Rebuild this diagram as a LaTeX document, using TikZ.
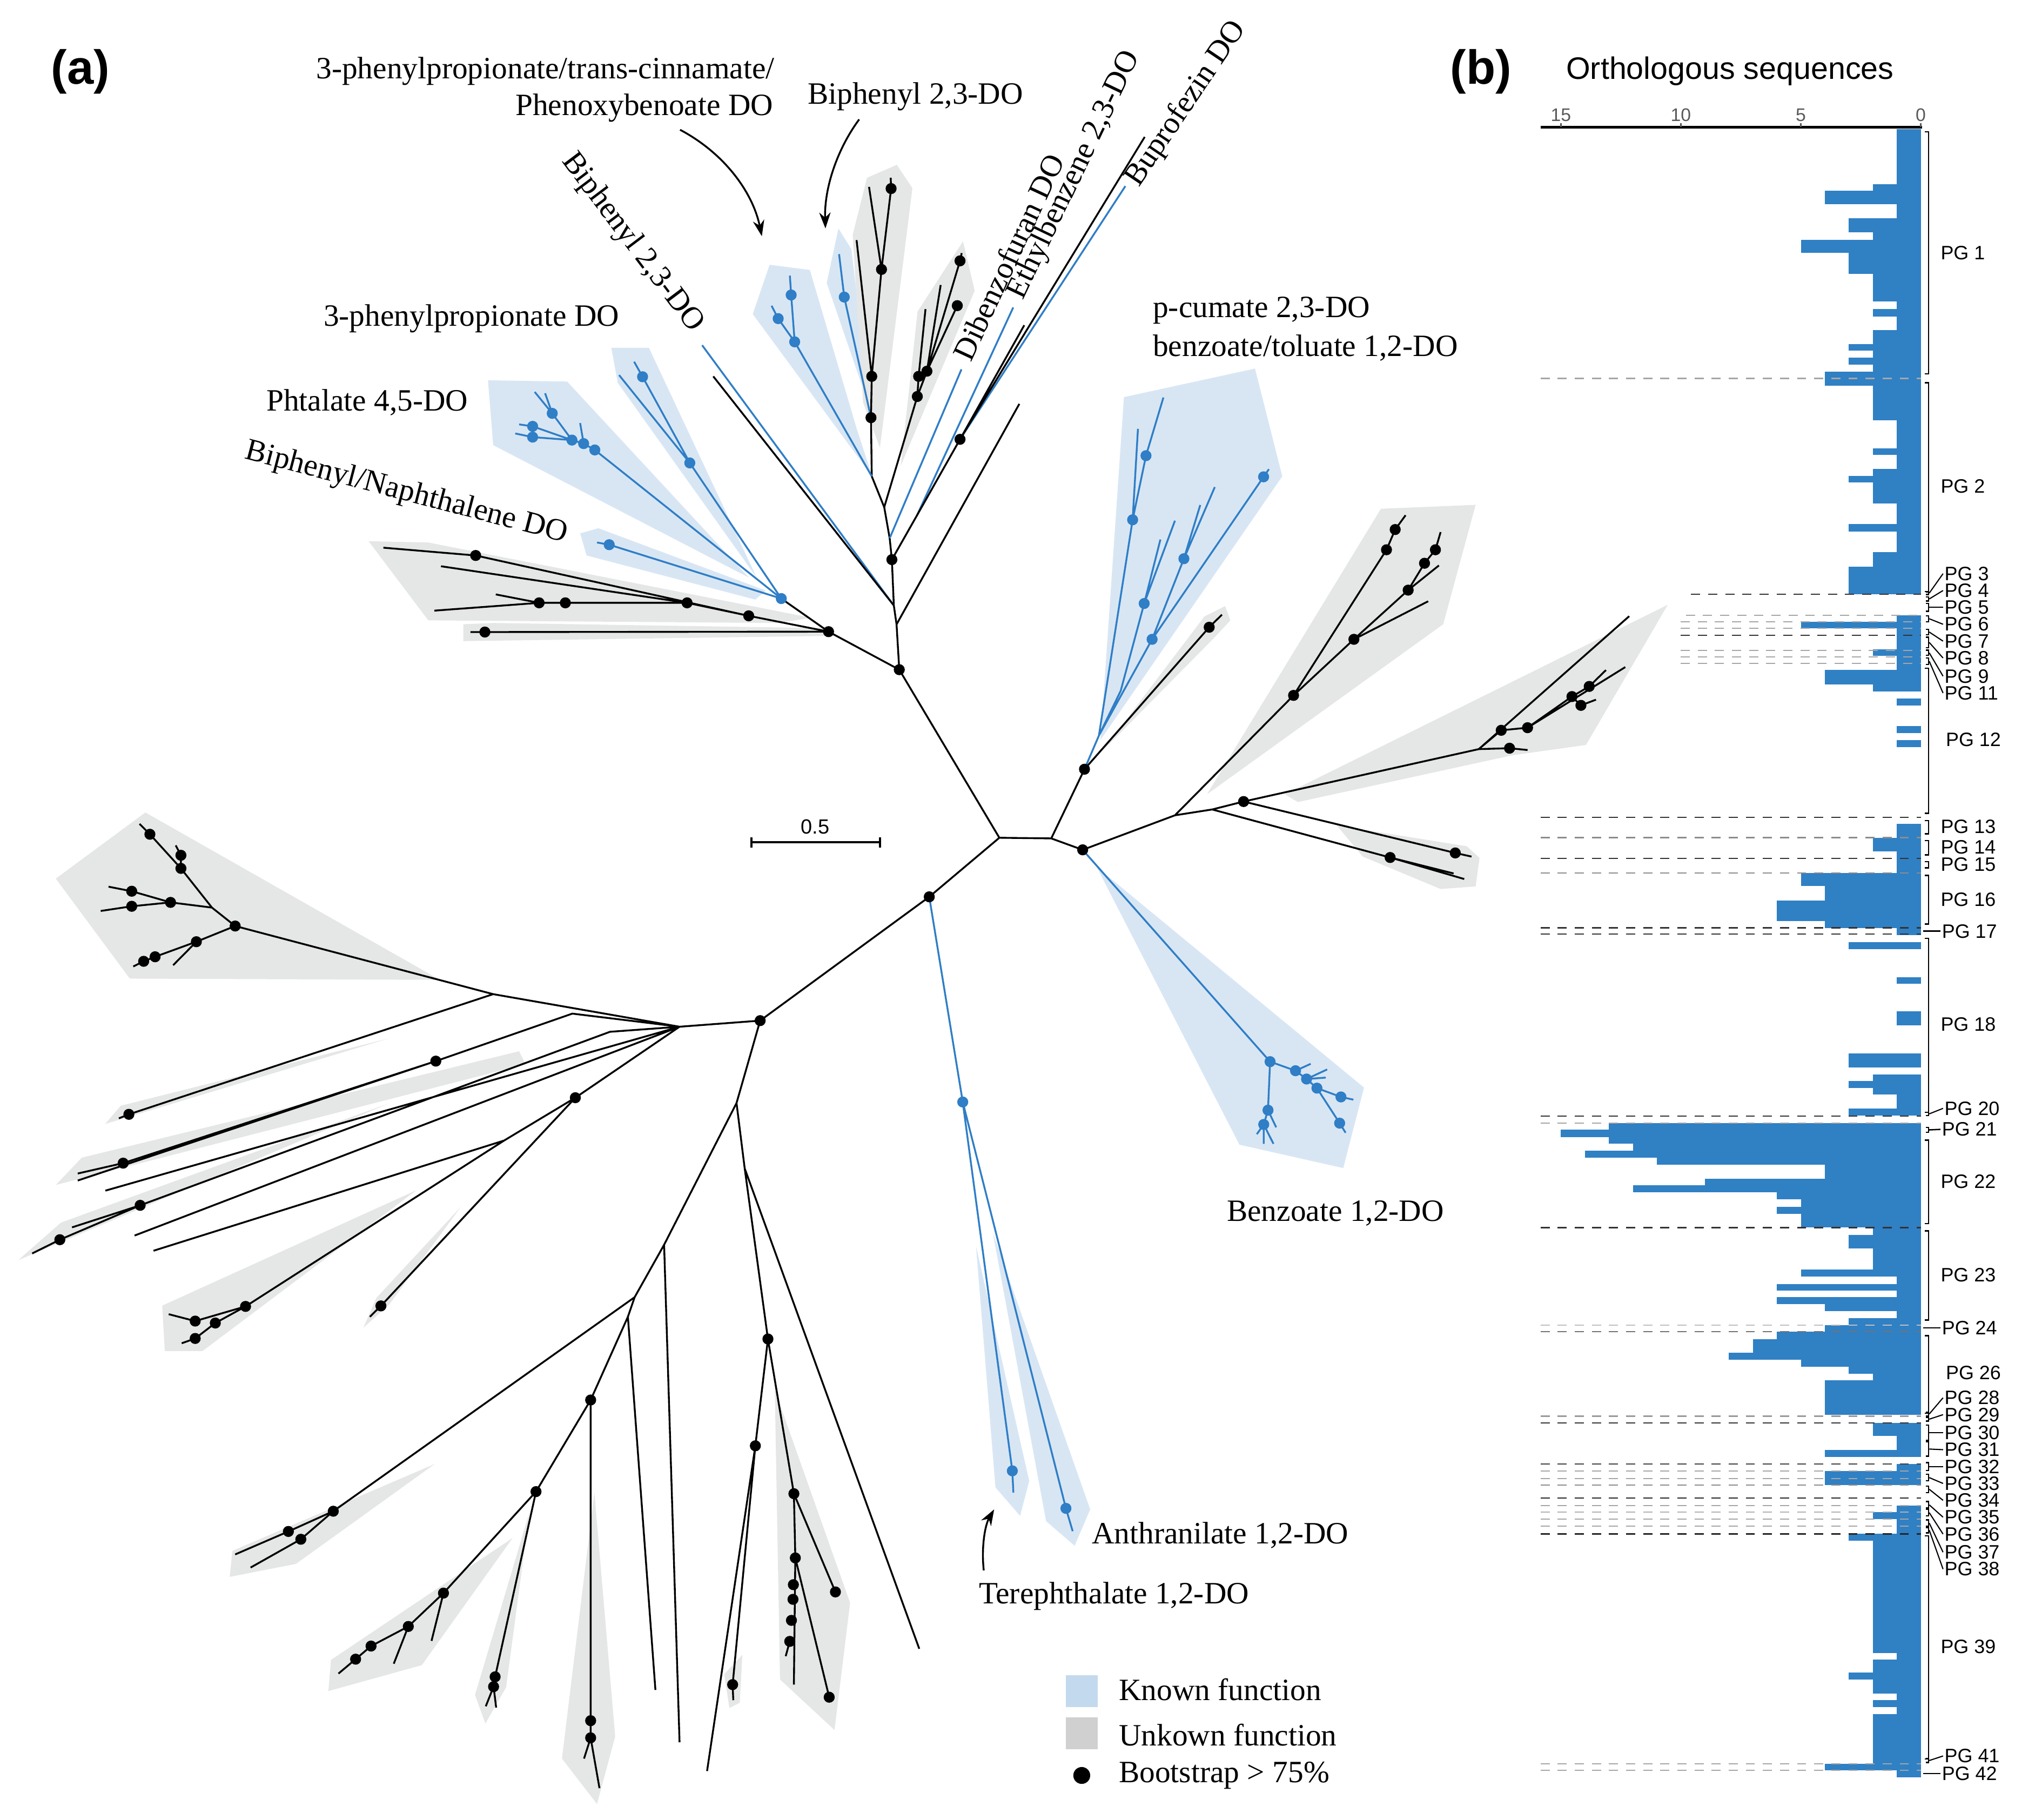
\documentclass[tikz,border=0pt]{standalone}
\usepackage{fontspec}
\setmainfont{Liberation Serif}
\setsansfont{Liberation Sans}
\usepackage{tikz}
\usetikzlibrary{arrows.meta}
\definecolor{treeblue}{HTML}{2F7EC6}
\definecolor{barblue}{HTML}{3080C4}
\definecolor{knownbg}{HTML}{D8E6F4}
\definecolor{unknownbg}{HTML}{E5E6E6}
\definecolor{knownkey}{HTML}{C3D9EE}
\definecolor{unknownkey}{HTML}{D0D0D0}

\newcommand{\kdots}[1]{\foreach \p in {#1}{\fill[black] (\p) circle[radius=0.085cm];}}
\newcommand{\bdots}[1]{\foreach \p in {#1}{\fill[treeblue] (\p) circle[radius=0.085cm];}}

\tikzset{
	br/.style={line width=0.8pt, black},
	bb/.style={line width=0.8pt, treeblue},
	kpoly/.style={fill=knownbg},
	upoly/.style={fill=unknownbg},
	lab/.style={font=\fontsize{13.6}{16}\selectfont, inner sep=0pt},
	pglab/.style={font=\sffamily\fontsize{8.5}{9}\selectfont, anchor=west, inner sep=0pt},
	arr/.style={line width=0.8pt, -{Stealth[length=7pt,width=5pt]}},
	dsh/.style={line width=0.5pt, dash pattern=on 4pt off 3.5pt},
	brk/.style={line width=0.6pt, black},
	keybox/.style={minimum width=0.49cm, minimum height=0.49cm, inner sep=0pt}
}

\begin{document}
\begin{tikzpicture}[x=0.02cm, y=-0.02cm]
	\useasboundingbox (0,0) rectangle (1568,1402);
	
	% clade shading
	\fill[kpoly] (580,242) -- (593,204) -- (624,208) -- (660,330) -- (672,367) -- cycle;
	\fill[kpoly] (637,218) -- (646,176) -- (656,192) -- (671,317) -- cycle;
	\fill[kpoly] (471,268) -- (500,268) -- (583,445) -- (476,295) -- cycle;
	\fill[kpoly] (376,293) -- (437,294) -- (577,445) -- (380,343) -- cycle;
	\fill[kpoly] (447,411) -- (461,407) -- (590,455) -- (582,462) -- (452,428) -- cycle;
	\fill[kpoly] (866,306) -- (967,284) -- (988,367) -- (848,570) -- cycle;
	\fill[kpoly] (845,668) -- (1051,838) -- (1035,900) -- (955,882) -- cycle;
	\fill[kpoly] (752,960) -- (767,1146) -- (786,1168) -- (793,1141) -- cycle;
	\fill[kpoly] (765,950) -- (840,1163) -- (828,1191) -- (806,1172) -- cycle;
	\fill[upoly] (657,181) -- (668,137) -- (691,127) -- (703,145) -- (678,345) -- (665,310) -- cycle;
	\fill[upoly] (707,240) -- (742,186) -- (751,224) -- (694,359) -- cycle;
	\fill[upoly] (284,417) -- (330,418) -- (625,476) -- (600,480) -- (330,478) -- cycle;
	\fill[upoly] (357,481) -- (380,480) -- (636,484) -- (636,490) -- (357,494) -- cycle;
	\fill[upoly] (850,578) -- (928,475) -- (944,467) -- (948,478) -- (935,492) -- cycle;
	\fill[upoly] (1064,392) -- (1137,389) -- (1112,481) -- (930,612) -- cycle;
	\fill[upoly] (990,612) -- (1285,466) -- (1222,574) -- (1165,582) -- (1000,618) -- cycle;
	\fill[upoly] (1030,636) -- (1130,652) -- (1140,661) -- (1137,683) -- (1110,685) -- (1050,660) -- cycle;
	\fill[upoly] (43,677) -- (112,626) -- (339,755) -- (100,754) -- cycle;
	\fill[upoly] (81,866) -- (93,852) -- (300,800) -- cycle;
	\fill[upoly] (43,913) -- (63,892) -- (400,810) -- (405,820) -- cycle;
	\fill[upoly] (14,971) -- (47,942) -- (300,850) -- cycle;
	\fill[upoly] (125,1006) -- (321,917) -- (156,1041) -- (127,1041) -- cycle;
	\fill[upoly] (280,1023) -- (290,1000) -- (355,930) -- (300,1005) -- cycle;
	\fill[upoly] (179,1195) -- (335,1128) -- (228,1205) -- (177,1215) -- cycle;
	\fill[upoly] (255,1279) -- (395,1185) -- (325,1283) -- (253,1303) -- cycle;
	\fill[upoly] (366,1306) -- (408,1165) -- (390,1300) -- (374,1328) -- cycle;
	\fill[upoly] (433,1355) -- (458,1150) -- (474,1338) -- (460,1390) -- cycle;
	\fill[upoly] (597,1071) -- (655,1235) -- (643,1333) -- (601,1294) -- cycle;
	\fill[upoly] (558,1290) -- (572,1275) -- (570,1312) -- (562,1316) -- cycle;
	
	% tree nodes
	\coordinate (c1) at (770,645.5); \coordinate (c2) at (810,646);
	\coordinate (t0) at (692.9,516); \coordinate (s1) at (690.8,481.1); \coordinate (s0) at (688.7,466.5);
	\coordinate (t1) at (687.2,431.2); \coordinate (t2) at (685.5,414.7); \coordinate (t3) at (681.3,390.8);
	\coordinate (t4) at (671.7,367);
	\coordinate (l0) at (638.4,486.7); \coordinate (l1) at (602,461.2);
	\coordinate (m0) at (716,691); \coordinate (m1) at (585.7,786.4);
	\coordinate (w0) at (523.6,791.1); \coordinate (d0) at (567.5,849.9);
	\coordinate (n1) at (835.6,592.7); \coordinate (n2) at (834.2,654.8);
	\coordinate (g1) at (576.9,474.5); \coordinate (g2) at (529.4,464.5); \coordinate (g3) at (366.5,428);
	\coordinate (g4) at (435.6,464.5); \coordinate (g5) at (415.4,464.5); \coordinate (g6) at (373.6,487);
	\coordinate (b1) at (469.4,419.7); \coordinate (b2) at (531.5,356.7); \coordinate (b3) at (495.1,290.3);
	\coordinate (b4) at (458.3,346.7); \coordinate (b5) at (449.7,341.8); \coordinate (b6) at (440.7,339.1);
	\coordinate (b7) at (425.5,318.5); \coordinate (b8) at (410.4,328.5); \coordinate (b9) at (410.4,336.8);
	\coordinate (u1) at (612.3,263.4); \coordinate (u2) at (599.6,245.5); \coordinate (u3) at (609.6,227.3);
	\coordinate (u4) at (650.5,228.9);
	\coordinate (k1) at (671.1,321.8); \coordinate (k2) at (671.7,290); \coordinate (k3) at (679.2,207.6);
	\coordinate (k4) at (686.6,145.3);
	\coordinate (d1) at (706.8,305.5); \coordinate (d2) at (714.2,286); \coordinate (d3) at (707.8,290);
	\coordinate (d4) at (737.6,235.5); \coordinate (d5) at (739.7,201); \coordinate (bz) at (739.7,338.5);
	\coordinate (bz1) at (706.6,397);
	\coordinate (q0) at (846.7,566.8); \coordinate (q1) at (872.7,400.5); \coordinate (q2) at (883,351.1);
	\coordinate (q3) at (863.5,532.3); \coordinate (q4) at (881.6,465); \coordinate (q5) at (887.7,492.6);
	\coordinate (q6) at (912.2,430.5); \coordinate (q7) at (973.6,367.4); \coordinate (q8) at (931.7,483.3);
	\coordinate (x1) at (905.3,628.2); \coordinate (x2) at (934,623.7); \coordinate (x3) at (958.2,617.6);
	\coordinate (x4) at (1139.4,577.2);
	\coordinate (r1) at (996.7,535.8); \coordinate (r2) at (1068.3,423.6); \coordinate (r2b) at (1075,408);
	\coordinate (r3) at (1043.2,492.6); \coordinate (r4) at (1085,454.7); \coordinate (r5) at (1097.6,434);
	\coordinate (r6) at (1106,423.6); \coordinate (r7) at (1071.1,660.7); \coordinate (r8) at (1121.3,657.2);
	\coordinate (r9) at (1156.7,562.7); \coordinate (r10) at (1177,560.7); \coordinate (r11) at (1211.2,536.7);
	\coordinate (r12) at (1224.5,528.9); \coordinate (r13) at (1218.1,543.5); \coordinate (r14) at (1163.1,576.5);
	\coordinate (z1) at (978.6,818); \coordinate (z2) at (977,855.4); \coordinate (z3) at (973.7,866.4);
	\coordinate (z4) at (998.2,825); \coordinate (z5) at (1006.7,831.4); \coordinate (z6) at (1014.7,838.4);
	\coordinate (z7) at (1033.2,845.2); \coordinate (z8) at (1032.2,865.4);
	\coordinate (h1) at (741.8,849.1); \coordinate (h2) at (780,1133.3); \coordinate (h3) at (821.3,1162.2);
	\coordinate (y1) at (380,766); \coordinate (y1a) at (181.2,713.5); \coordinate (e1) at (99.3,858.6);
	\coordinate (y2) at (441,781); \coordinate (e2) at (335.8,817.6); \coordinate (e3) at (94.9,896.2);
	\coordinate (y3) at (470,795); \coordinate (e4) at (108,928.7); \coordinate (e5) at (46.1,955.2);
	\coordinate (y4) at (443.3,845.8); \coordinate (y5) at (388.4,878.8); \coordinate (e6) at (189.2,1006.6);
	\coordinate (e7) at (165.9,1019.4); \coordinate (e7b) at (150.4,1017.9); \coordinate (e8) at (150.4,1031.3);
	\coordinate (e9) at (293.5,1006.2);
	\coordinate (f1) at (163.3,699.3); \coordinate (f2) at (139.4,669.1); \coordinate (f3) at (139.4,659);
	\coordinate (f4) at (115.5,642.8); \coordinate (f5) at (131.4,695.3); \coordinate (f6) at (101.5,698.3);
	\coordinate (f7) at (101.5,686.7); \coordinate (f8) at (151.3,725.6); \coordinate (f9) at (119.5,737.2);
	\coordinate (f10) at (110.7,740.7);
	\coordinate (v1) at (511.7,959.1); \coordinate (v2) at (489,999.5); \coordinate (v3) at (256.8,1164.4);
	\coordinate (v4) at (222.2,1180); \coordinate (v5) at (231.8,1186); \coordinate (v6) at (483.8,1014.6);
	\coordinate (v7) at (455.1,1078.7); \coordinate (v8) at (455.1,1325.8); \coordinate (v9) at (455.1,1339);
	\coordinate (v10) at (413,1149.3); \coordinate (v11) at (341.7,1227.5); \coordinate (v12) at (314.6,1253.2);
	\coordinate (v13) at (285.9,1268.3); \coordinate (v14) at (274,1278.4); \coordinate (v15) at (381.5,1292);
	\coordinate (v16) at (380.3,1299.6); \coordinate (v17) at (573.8,900.3); \coordinate (v18) at (591.7,1031.7);
	\coordinate (v19) at (582,1114); \coordinate (v20) at (564.5,1298); \coordinate (v21) at (611.7,1150.9);
	\coordinate (v22) at (612.8,1200.4); \coordinate (v23) at (643.7,1226.6); \coordinate (v24) at (638.9,1307.7);
	\coordinate (w1) at (611.3,1221); \coordinate (w2) at (611,1232.3); \coordinate (w3) at (609.8,1248.5);
	\coordinate (w4) at (608.5,1264.7);
	
	% branches
	\draw[br] (c1) -- (c2) (c1) -- (t0) -- (s1) -- (s0) -- (t1) -- (t2) -- (t3) -- (t4) -- (k1)
		(t0) -- (l0) -- (l1) (c1) -- (m0) -- (m1) -- (w0) (m1) -- (d0) (c2) -- (n1) (c2) -- (n2);
	\draw[br] (l0) -- (g1) -- (g3) -- (295.4,422) (g1) -- (g2) -- (339.8,436.3) (g2) -- (g4) -- (g5) -- (334.7,470.5)
		(g5) -- (382,458) (l0) -- (g6) -- (362.5,487);
	\draw[bb] (l1) -- (b1) -- (460,418) (l1) -- (b2) -- (b3) -- (488.6,278.7) (b2) -- (477,289)
		(l1) -- (b4) -- (b5) -- (b6) -- (b7) -- (412,302) (b7) -- (420,303) (b6) -- (b8) -- (400,327)
		(b6) -- (b9) -- (397,334) (b5) -- (447,326);
	\draw[bb] (t4) -- (u1) -- (u2) -- (594.5,235.6) (u1) -- (u3) -- (608.6,212.4) (k1) -- (u4) -- (646.5,195.8)
		(s0) -- (541,266) (t2) -- (740.8,284.6) (bz1) -- (780.7,236.9) (bz) -- (867.1,143.4);
	\draw[br] (k1) -- (k2) -- (k3) -- (k4) -- (686.3,137) (k2) -- (660,185) (k3) -- (669.6,144)
		(t3) -- (d1) -- (d3) -- (713.1,238.2) (d1) -- (d2) -- (d4) (d2) -- (d5) -- (741,195) (d2) -- (724.8,219.6)
		(t1) -- (bz1) -- (bz) -- (882,105.5) (bz) -- (789.2,250.6) (s1) -- (785.4,311.2) (s0) -- (549.6,290);
	\draw[bb] (n1) -- (q0) -- (q1) -- (q2) -- (896.4,306.3) (q1) -- (876.8,330.4) (q0) -- (q3) -- (q4) -- (894.1,415.7)
		(q4) -- (905.3,401.2) (q0) -- (q5) -- (q6) -- (924.8,389.1) (q6) -- (936,375.3) (q5) -- (q7) -- (977.7,361.5);
	\draw[br] (n1) -- (q8) -- (941.5,473.6);
	\draw[br] (n2) -- (x1) -- (x2) -- (x3) -- (x4) -- (1255.3,474.8) (x1) -- (r1) -- (r2) -- (r2b) -- (1083,397)
		(r1) -- (r3) -- (r4) -- (r5) -- (r6) -- (1110,410) (r4) -- (1108.7,435.7) (r3) -- (1100.4,463.3)
		(x2) -- (r7) -- (1128.2,677.3) (r7) -- (1120,673) (x3) -- (r8) -- (1133.8,660)
		(x4) -- (r9) -- (r10) -- (r11) -- (r12) -- (1237.4,516.3) (r10) -- (1252.3,514) (r11) -- (r13) -- (1229.7,539.1)
		(x4) -- (r14) -- (1177,577.9);
	\draw[bb] (n2) -- (z1) -- (z2) -- (z3) -- (968.4,873.9) (z3) -- (973.7,881.3) (z3) -- (981.2,881.3) (z2) -- (983.3,868.6)
		(z1) -- (z4) -- (z5) -- (z6) -- (z7) -- (1042.8,847.3) (z6) -- (z8) -- (1036.8,872.8) (z4) -- (1009.9,819.7)
		(z5) -- (1022.6,824) (z5) -- (1021.5,830.3);
	\draw[bb] (m0) -- (h1) -- (h2) -- (780.8,1150) (h1) -- (h3) -- (826.5,1179.8);
	\draw[br] (w0) -- (y1) -- (y1a) (y1) -- (e1) -- (91.6,861.7) (w0) -- (y2) -- (e2) -- (e3) -- (59.9,904.2)
		(e2) -- (59.9,909.6) (w0) -- (81.2,917.4) (w0) -- (y3) -- (e4) -- (e5) -- (24.8,965.8) (e4) -- (55.5,945.7)
		(w0) -- (103.7,952) (w0) -- (y4) -- (y5) -- (118.3,963.7) (y5) -- (e6) -- (e7) -- (e8) -- (140,1035)
		(e6) -- (e7b) -- (130,1012.6) (y4) -- (e9) -- (285,1014.6);
	\draw[br] (y1a) -- (f1) -- (f2) -- (f3) -- (135.4,651.4) (f2) -- (f4) -- (107.5,634.8) (f1) -- (f5) -- (f6) -- (77.6,701.9)
		(f5) -- (f7) -- (83.6,683.2) (y1a) -- (f8) -- (f9) -- (f10) -- (102.7,744.7) (f8) -- (133.4,743.7);
	\draw[br] (d0) -- (v1) -- (523.6,1342.4) (v1) -- (v2) -- (v3) -- (v4) -- (181.2,1197.7) (v3) -- (v5) -- (193.1,1207.8)
		(v2) -- (v6) -- (505,1302.1) (v6) -- (v7) -- (v8) -- (v9) -- (461.9,1377.8) (v9) -- (450,1355)
		(v7) -- (v10) -- (v11) -- (v12) -- (v13) -- (v14) -- (260.8,1289.5) (v11) -- (332.5,1264.3) (v12) -- (303.4,1281.9)
		(v10) -- (v15) -- (v16) -- (374.3,1314.7) (v16) -- (382.3,1315.7);
	\draw[br] (d0) -- (v17) -- (v18) -- (v19) -- (v20) -- (565,1310) (v19) -- (544.8,1364.6) (v18) -- (v21) -- (v22) -- (611.7,1298)
		(w4) -- (605.4,1276.1) (v21) -- (v23) (v22) -- (v24) (v17) -- (708.3,1270.4);
	
	% bootstrap dots
	\kdots{t0,t1,l0,g1,g2,g3,g4,g5,g6,k1,k2,k3,k4,d1,d2,d3,d4,d5,bz,n1,n2,q8,x3,r1,r2,r2b,r3,r4,r5,r6,r7,r8,r9,r10,r11,r12,r13,r14}
	\kdots{m0,m1,e1,e2,e3,e4,e5,y4,e6,e7,e7b,e8,e9,y1a,f2,f3,f4,f5,f6,f7,f8,f9,f10}
	\kdots{v3,v4,v5,v7,v8,v9,v10,v11,v12,v13,v14,v15,v16,v18,v19,v20,v21,v22,v23,v24,w1,w2,w3,w4}
	\bdots{l1,b1,b2,b3,b4,b5,b6,b7,b8,b9,u1,u2,u3,u4,q1,q2,q4,q5,q6,q7,z1,z2,z3,z4,z5,z6,z7,z8,h1,h2,h3}
	
	% labels (a)
	\node[lab, anchor=east] (lcinn) at (597,55) {3-phenylpropionate/trans-cinnamate/};
	\node[lab, anchor=east] (lphen) at (596,83) {Phenoxybenoate DO};
	\node[lab, anchor=west] (lbip1) at (622,74.6) {Biphenyl 2,3-DO};
	\node[lab, anchor=west] (lppd) at (249,245.5) {3-phenylpropionate DO};
	\node[lab, anchor=west] (lpht) at (205,310) {Phtalate 4,5-DO};
	\node[lab, rotate=-14.6] (lnaph) at (313,380) {Biphenyl/Naphthalene DO};
	\node[lab, rotate=-53] (lbip2) at (487,187) {Biphenyl 2,3-DO};
	\node[lab, rotate=65] (ldbf) at (777,198) {Dibenzofuran DO};
	\node[lab, rotate=64.5] (leth) at (828,135) {Ethylbenzene 2,3-DO};
	\node[lab, rotate=56] (lbup) at (914,80) {Buprofezin DO};
	\node[lab, anchor=west] (lcum) at (888,239) {p-cumate 2,3-DO};
	\node[lab, anchor=west] (ltol) at (888,268) {benzoate/toluate 1,2-DO};
	\node[lab, anchor=west] (lben) at (945,935) {Benzoate 1,2-DO};
	\node[lab, anchor=west] (lant) at (841,1183) {Anthranilate 1,2-DO};
	\node[lab, anchor=west] (lter) at (754,1230) {Terephthalate 1,2-DO};
	
	\coordinate (a1s) at (524,100); \coordinate (a1e) at (587,182);
	\coordinate (a2s) at (662,92); \coordinate (a2e) at (636,176);
	\coordinate (a3s) at (758,1210); \coordinate (a3e) at (766,1163);
	\draw[arr] (a1s) .. controls (558,118) and (580,148) .. (a1e);
	\draw[arr] (a2s) .. controls (645,115) and (635,145) .. (a2e);
	\draw[arr] (a3s) .. controls (756,1192) and (759,1175) .. (a3e);
	
	% scale bar
	\coordinate (sb1) at (579,649); \coordinate (sb2) at (678,649);
	\draw[line width=0.8pt] (sb1) -- (sb2) (sb1) ++(0,-4) -- ++(0,8) (sb2) ++(0,-4) -- ++(0,8);
	\node[font=\sffamily\fontsize{9}{10}\selectfont] (sbl) at (628,637) {0.5};
	
	% legend
	\node[keybox, fill=knownkey] (kkey) at (833.5,1303) {};
	\node[keybox, fill=unknownkey] (ukey) at (833.5,1335.5) {};
	\node[circle, fill=black, minimum size=0.26cm, inner sep=0pt] (bkey) at (833.5,1368) {};
	\node[lab, anchor=west] (ktxt) at (861.8,1302) {Known function};
	\node[lab, anchor=west] (utxt) at (861.8,1336.6) {Unkown function};
	\node[lab, anchor=west] (btxt) at (861.8,1368) {Bootstrap > 75\%};
	
	\node[font=\sffamily\bfseries\fontsize{21}{24}\selectfont, inner sep=0pt] (pa) at (62,55) {(a)};
	\node[font=\sffamily\bfseries\fontsize{21}{24}\selectfont, inner sep=0pt] (pb) at (1141,55) {(b)};
	
	% panel (b)
	\node[font=\sffamily\fontsize{13.6}{16}\selectfont, inner sep=0pt] (ttl) at (1333,55) {Orthologous sequences};
	\foreach \ya/\yb/\val in {99.4/141.8/1, 141.8/147/2, 147/157.3/4, 157.3/168/1, 168/178.9/3, 178.9/184.7/2,
		184.7/194.9/5, 194.9/211/3, 211/232.3/2, 232.3/238.1/1, 238.1/244/2, 244/254.2/1, 254.2/265/2, 265/270.3/3,
		270.3/275.5/2, 275.5/281/3, 281/286.3/2, 286.3/297.1/4, 297.1/323.7/2, 323.7/345.3/1, 345.3/350.6/2,
		350.6/361.4/1, 361.4/366.6/2, 366.6/371.9/3, 371.9/388/2, 388/403.7/1, 403.7/409.6/3, 409.6/425.6/1,
		425.6/436.7/2, 436.7/457.7/3, 474/479/1, 479/484.2/5, 484.2/500.2/1, 500.2/505.5/2, 505.5/516.3/1,
		516.3/527.4/4, 527.4/532.7/2, 538.2/543.5/1, 559.5/564.8/1, 570.3/575.6/1, 634.6/645.4/1, 645.4/655.9/2,
		655.9/672.5/1, 672.5/682.7/5, 682.7/693.8/4, 693.8/709.6/6, 709.6/714.9/4, 714.9/720.7/1, 726/731.2/3,
		752.8/758.1/1, 779/790.2/1, 811.8/822.3/3, 827.9/833.1/2, 833.1/838.4/3, 838.4/843.3/2, 843.3/854.2/1,
		854.2/859.4/3, 865.2/870.2/13, 870.2/876.1/15, 876.1/881.3/13, 881.3/886.6/12, 886.6/892.1/14,
		892.1/897.4/11, 897.4/908.4/4, 908.4/913.2/9, 913.2/918.7/12, 918.7/923.9/6, 923.9/930/5, 930/935.2/6,
		935.2/945.9/5, 945.9/951.4/2, 951.4/962.1/3, 962.1/978/2, 978/983.4/5, 983.4/989.5/1, 989.5/994.4/6,
		994.4/999.6/1, 999.6/1004.8/6, 1004.8/1010.3/4, 1010.3/1015.5/1, 1015.5/1021/3, 1021/1026.2/4,
		1026.2/1031.7/6, 1031.7/1042.4/7, 1042.4/1047.6/8, 1047.6/1053/5, 1053/1058.5/3, 1058.5/1063.7/2,
		1063.7/1090.3/4, 1096.4/1106.2/2, 1106.2/1117.2/1, 1117.2/1122.7/4, 1127.9/1133.3/1, 1133.3/1144.3/4,
		1159.9/1165.1/1, 1165.1/1170.6/2, 1170.6/1181.9/1, 1181.9/1187.1/3, 1187.1/1273.5/2, 1273.5/1278.7/1,
		1278.7/1288.7/2, 1288.7/1294.2/3, 1294.2/1305/2, 1305/1310.1/1, 1310.1/1315.3/2, 1315.3/1320.8/1,
		1320.8/1359/2, 1359/1364.2/4, 1364.2/1369.6/1}
		\fill[barblue] ({1480-18.49*\val},\ya) rectangle (1480,\yb);
	\foreach \yy/\xs/\cl in {291.6/1187/black!35, 457.7/1303/black!80, 474/1299/black!35, 479/1295/black!35,
		484.2/1295/black!35, 489.4/1295/black!80, 501.1/1295/black!35, 506.1/1295/black!35, 511.3/1295/black!35,
		629.6/1187/black!80, 645.4/1187/black!45, 661.4/1187/black!80, 672.5/1187/black!45, 714.9/1187/black!80,
		719.8/1187/black!80, 860/1187/black!80, 865.2/1187/black!35, 945.9/1187/black!80, 1021/1187/black!25,
		1026.2/1187/black!55, 1091.2/1187/black!40, 1096.4/1187/black!80, 1127.9/1187/black!75, 1133.3/1187/black!35,
		1139.1/1187/black!35, 1144.3/1187/black!45, 1154.4/1187/black!85, 1159.9/1187/black!35, 1165.1/1187/black!30,
		1170.6/1187/black!35, 1175.8/1187/black!35, 1181.9/1187/black!85, 1359/1187/black!35, 1364.2/1187/black!35}
		\draw[dsh, \cl] (\xs,\yy) -- (1480,\yy);
	\draw[line width=1pt] (1187,98) -- (1481,98);
	\foreach \val in {15,10,5,0}
		\draw[black!65, line width=0.6pt] ({1480-18.49*\val},98) -- ++(0,-3)
			node[above=0.5pt, inner sep=0pt, font=\sffamily\fontsize{8}{9}\selectfont] {\val};
	
	% protein groups
	\foreach \ya/\yb/\ly/\lx/\t in {101.5/288/195/1495/1, 295/455.7/374.5/1495/2, 514.8/626.7/569.7/1499/12,
		632.2/642.4/636.9/1495/13, 647.7/658.8/652.7/1495/14, 664/668.7/666.1/1495/15, 674.6/712/693/1495/16,
		723/857/789.3/1495/18, 878.4/942.8/910.2/1495/22, 948.3/1017/982.5/1495/23, 1029.2/1088.8/1057.6/1499/26,
		1183.4/1355.3/1268.9/1495/39}
	{
		\draw[brk] (1483,\ya) -- (1486,\ya) -- (1486,\yb) -- (1483,\yb);
		\node[pglab] (pg\t) at (\lx,\ly) {PG \t};
	}
	\foreach \ya/\yb/\ly/\t in {456/458/442/3, 460/463/455/4, 465/471/468/5, 474.5/479/481/6, 485/489/494/7,
		491/499/507/8, 501/505/521/9, 507/512/534/11, 857/859.5/854/20, 1088/1091/1077/28, 1092/1095/1090/29,
		1098/1110/1104/30, 1111/1122/1117/31, 1127/1133/1130/32, 1136/1141/1143/33, 1145/1150/1156/34,
		1157/1162/1169/35, 1163/1168/1182/36, 1171/1176/1196/37, 1177/1181/1209/38, 1355/1358/1353/41}
	{
		\draw[brk] (1484,\ya) -- (1486,\ya) -- (1486,\yb) -- (1484,\yb);
		\node[pglab] (pg\t) at (1498,\ly) {PG \t};
		\coordinate (pgc\t) at (1486.5,{(\ya+\yb)/2});
		\draw[brk, line width=0.5pt] (pgc\t) -- ([xshift=-0.5pt]pg\t.west);
	}
	\foreach \yy/\t in {717.5/17, 1023.1/24, 1366.6/42}
	{
		\node[pglab] (pg\t) at (1496,\yy) {PG \t};
		\coordinate (pgc\t) at (1482,\yy);
		\draw[brk] (pgc\t) -- ([xshift=-0.5pt]pg\t.west);
	}
	\draw[brk] (1484,868.7) -- (1486,868.7) -- (1486,872.5) -- (1484,872.5);
	\node[pglab] (pg21) at (1496,870.2) {PG 21};
	\coordinate (pgc21) at (1486,870.6);
	\draw[brk] (pgc21) -- ([xshift=-0.5pt]pg21.west);
\end{tikzpicture}
\end{document}
